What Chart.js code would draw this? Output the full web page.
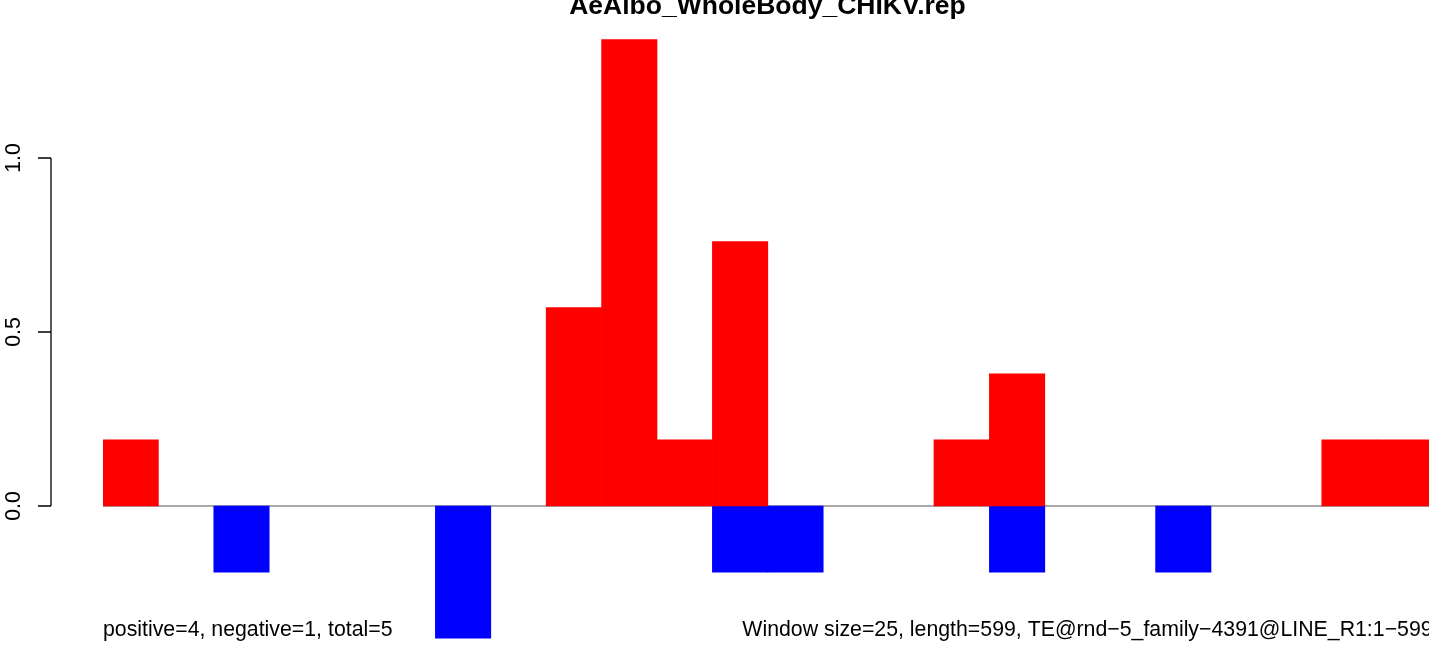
<!DOCTYPE html>
<html>
<head>
<meta charset="utf-8">
<script src="https://cdn.jsdelivr.net/npm/chart.js@4/dist/chart.umd.min.js"></script>
<style>
  html, body { margin: 0; padding: 0; background: #fff; overflow: hidden; }
  #wrap { width: 1440px; height: 645px; }
</style>
</head>
<body>
<div id="wrap"><canvas id="repChart" width="1440" height="645"></canvas></div>
<script>
// 24 windows of 25 bp over the 599 bp element
const bins = Array.from({ length: 24 }, (_, i) => String(i + 1));
const positiveValues = [0.19, 0, 0, 0, 0, 0, 0, 0, 0.57, 1.34, 0.19, 0.76, 0, 0, 0, 0.19, 0.38, 0, 0, 0, 0, 0, 0.19, 0.19];
const negativeValues = [0, 0, -0.19, 0, 0, 0, -0.38, 0, 0, 0, 0, -0.19, -0.19, 0, 0, 0, -0.19, 0, 0, -0.19, 0, 0, 0, 0];
const yTicks = [0, 0.5, 1.0];
const yTickLabels = ['0.0', '0.5', '1.0'];

const titleText = 'AeAlbo_WholeBody_CHIKV.rep';
const leftNote = 'positive=4, negative=1, total=5';
const rightNote = 'Window size=25, length=599, TE@rnd\u22125_family\u22124391@LINE_R1:1\u2212599';

const textFont = '21.3px "Liberation Sans", Arial, sans-serif';

// zero line, R style axis and text drawn on top of the chart
const decorations = {
    id: 'decorations',
    beforeDatasetsDraw(chart) {
        const ctx = chart.ctx;
        const y = chart.scales.y;
        const area = chart.chartArea;
        const y0 = y.getPixelForValue(0);
        ctx.save();
        ctx.strokeStyle = '#8c8c8c';
        ctx.lineWidth = 1.5;
        ctx.beginPath();
        ctx.moveTo(area.left, y0);
        ctx.lineTo(area.right, y0);
        ctx.stroke();
        ctx.restore();
    },
    afterDraw(chart) {
        const ctx = chart.ctx;
        const y = chart.scales.y;
        const area = chart.chartArea;
        ctx.save();

        // y axis
        const axisX = 51;
        const top = y.getPixelForValue(yTicks[yTicks.length - 1]);
        const bottom = y.getPixelForValue(yTicks[0]);
        ctx.strokeStyle = '#000';
        ctx.lineWidth = 1.3;
        ctx.beginPath();
        ctx.moveTo(axisX, top);
        ctx.lineTo(axisX, bottom);
        yTicks.forEach(v => {
            const py = y.getPixelForValue(v);
            ctx.moveTo(axisX, py);
            ctx.lineTo(axisX - 13, py);
        });
        ctx.stroke();

        ctx.fillStyle = '#000';
        ctx.font = textFont;
        ctx.textAlign = 'center';
        ctx.textBaseline = 'middle';
        yTicks.forEach((v, i) => {
            const py = y.getPixelForValue(v);
            ctx.save();
            ctx.translate(14, py);
            ctx.rotate(-Math.PI / 2);
            ctx.fillText(yTickLabels[i], 0, 0);
            ctx.restore();
        });

        // title
        ctx.font = 'bold 26.5px "Liberation Sans", Arial, sans-serif';
        ctx.textAlign = 'center';
        ctx.textBaseline = 'alphabetic';
        ctx.fillText(titleText, 767.5, 14);

        // notes along the bottom
        ctx.font = textFont;
        ctx.textAlign = 'left';
        ctx.fillText(leftNote, area.left, 636);
        ctx.textAlign = 'right';
        ctx.fillText(rightNote, area.right, 636);

        ctx.restore();
    }
};

const ctx = document.getElementById('repChart').getContext('2d');
new Chart(ctx, {
    type: 'bar',
    data: {
        labels: bins,
        datasets: [
            {
                // empty windows get no bar at all
                data: positiveValues.map(v => v || null),
                backgroundColor: '#ff0000',
                borderWidth: 0,
                barPercentage: 1,
                categoryPercentage: 1
            },
            {
                data: negativeValues.map(v => v || null),
                backgroundColor: '#0000ff',
                borderWidth: 0,
                barPercentage: 1,
                categoryPercentage: 1
            }
        ]
    },
    options: {
        responsive: false,
        animation: false,
        layout: {
            padding: { left: 103, right: 7.4, top: 0, bottom: 0 }
        },
        scales: {
            x: { display: false, stacked: true },
            y: { display: false, stacked: true, min: -0.3994, max: 1.454 }
        },
        plugins: {
            legend: { display: false },
            tooltip: { enabled: false }
        }
    },
    plugins: [decorations]
});
</script>
</body>
</html>
